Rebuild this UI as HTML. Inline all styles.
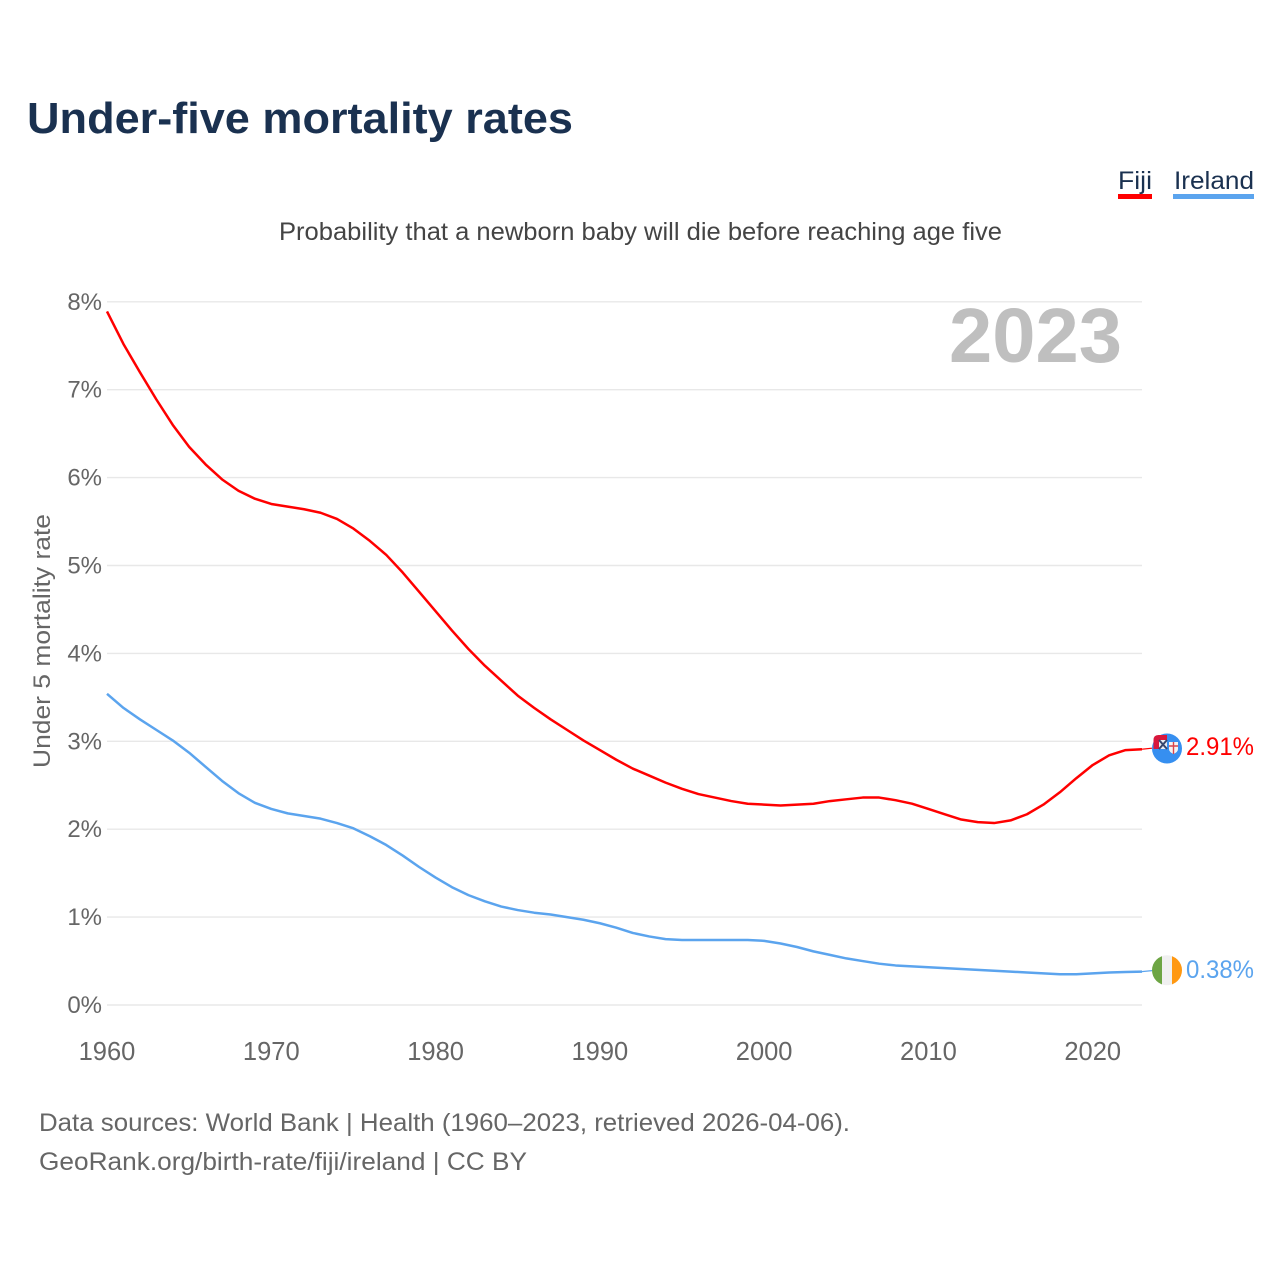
<!DOCTYPE html>
<html lang="en">
<head>
<meta charset="utf-8">
<title>Under-five mortality rates</title>
<style>
html,body{margin:0;padding:0;background:#fff;width:1280px;height:1280px;overflow:hidden}
svg{display:block}
text{font-family:"Liberation Sans",sans-serif}
</style>
</head>
<body>
<svg id="chart" xmlns="http://www.w3.org/2000/svg" width="1280" height="1280" viewBox="0 0 1280 1280">
  <defs>
    <clipPath id="clip-fiji"><circle cx="1167" cy="748.5" r="15"/></clipPath>
    <clipPath id="clip-ireland"><circle cx="1167" cy="970.3" r="15"/></clipPath>
  </defs>
  <rect width="1280" height="1280" fill="#fff"/>
  <text x="27" y="133" font-size="44" font-weight="700" fill="#1a3150" textLength="546" lengthAdjust="spacingAndGlyphs">Under-five mortality rates</text>
  <text x="279" y="240" font-size="25" fill="#444" textLength="723" lengthAdjust="spacingAndGlyphs">Probability that a newborn baby will die before reaching age five</text>

  <g>
    <text x="1118" y="189" font-size="25" fill="#1a3150" textLength="34" lengthAdjust="spacingAndGlyphs">Fiji</text>
    <rect x="1118" y="194" width="34" height="5" fill="#ff0000"/>
  </g>
  <g>
    <text x="1174" y="189" font-size="25" fill="#1a3150" textLength="80" lengthAdjust="spacingAndGlyphs">Ireland</text>
    <rect x="1173" y="194" width="81" height="5" fill="#5ba4ee"/>
  </g>

  <g id="grid"></g>
  <g id="yticks"></g>
  <g id="xticks"></g>

  <text transform="translate(50,768) rotate(-90)" font-size="24" fill="#666" textLength="254" lengthAdjust="spacingAndGlyphs">Under 5 mortality rate</text>
  <text x="949" y="362" font-size="77" font-weight="700" fill="#bfbfbf" textLength="173" lengthAdjust="spacingAndGlyphs">2023</text>

  <g id="series"></g>

  <g>
    <circle cx="1167" cy="748.5" r="15" fill="#368ff0"/>
    <path d="M1153.5 749V740Q1153.5 735 1158.5 735H1167V749Z" fill="#d8173c"/>
    <rect x="1159" y="740" width="8" height="9" fill="#e9edf4"/>
    <path d="M1159 740L1167 749M1167 740L1159 749" stroke="#35466e" stroke-width="2" fill="none"/>
    <path d="M1169 742H1178V749Q1178 752 1173.5 754Q1169 752 1169 749Z" fill="#f3f3f3"/>
    <path d="M1173.5 742V754M1169 746H1178" stroke="#d8444c" stroke-width="1.4" fill="none"/>
  </g>
  <text id="fiji-end" x="1186" y="755" font-size="25" fill="#ff0000" textLength="68" lengthAdjust="spacingAndGlyphs"></text>

  <g clip-path="url(#clip-ireland)">
    <rect x="1152" y="955" width="10" height="31" fill="#6da544"/>
    <rect x="1162" y="955" width="10" height="31" fill="#f0f0f0"/>
    <rect x="1172" y="955" width="10" height="31" fill="#ff9811"/>
  </g>
  <text id="ireland-end" x="1186" y="978" font-size="25" fill="#5ba4ee" textLength="68" lengthAdjust="spacingAndGlyphs"></text>

  <text x="39" y="1131" font-size="25" fill="#666" textLength="811" lengthAdjust="spacingAndGlyphs">Data sources: World Bank | Health (1960–2023, retrieved 2026-04-06).</text>
  <text x="39" y="1170" font-size="25" fill="#666" textLength="488" lengthAdjust="spacingAndGlyphs">GeoRank.org/birth-rate/fiji/ireland | CC BY</text>
</svg>
<script>
const years = [1960,1961,1962,1963,1964,1965,1966,1967,1968,1969,1970,1971,1972,1973,1974,1975,1976,1977,1978,1979,1980,1981,1982,1983,1984,1985,1986,1987,1988,1989,1990,1991,1992,1993,1994,1995,1996,1997,1998,1999,2000,2001,2002,2003,2004,2005,2006,2007,2008,2009,2010,2011,2012,2013,2014,2015,2016,2017,2018,2019,2020,2021,2022,2023];
const fijiValues = [7.89,7.52,7.20,6.89,6.60,6.35,6.15,5.98,5.85,5.76,5.70,5.67,5.64,5.60,5.53,5.42,5.28,5.12,4.92,4.70,4.48,4.26,4.05,3.86,3.69,3.52,3.38,3.25,3.13,3.01,2.90,2.79,2.69,2.61,2.53,2.46,2.40,2.36,2.32,2.29,2.28,2.27,2.28,2.29,2.32,2.34,2.36,2.36,2.33,2.29,2.23,2.17,2.11,2.08,2.07,2.10,2.17,2.28,2.42,2.58,2.73,2.84,2.90,2.91];
const irelandValues = [3.54,3.38,3.25,3.13,3.01,2.87,2.71,2.55,2.41,2.30,2.23,2.18,2.15,2.12,2.07,2.01,1.92,1.82,1.70,1.57,1.45,1.34,1.25,1.18,1.12,1.08,1.05,1.03,1.00,0.97,0.93,0.88,0.82,0.78,0.75,0.74,0.74,0.74,0.74,0.74,0.73,0.70,0.66,0.61,0.57,0.53,0.50,0.47,0.45,0.44,0.43,0.42,0.41,0.40,0.39,0.38,0.37,0.36,0.35,0.35,0.36,0.37,0.375,0.38];
const yTickValues = [0,1,2,3,4,5,6,7,8];
const xTickValues = [1960,1970,1980,1990,2000,2010,2020];

const NS = 'http://www.w3.org/2000/svg';
function xScale(year){ return 107 + (year - 1960) * (1142 - 107) / 63; }
function yScale(v){ return 1005 - v * 87.9; }

const gridGroup = document.getElementById('grid');
const yGroup = document.getElementById('yticks');
const xGroup = document.getElementById('xticks');
const seriesGroup = document.getElementById('series');

yTickValues.forEach(function(v){
  const line = document.createElementNS(NS, 'line');
  
  
  line.setAttribute('x1', 107);
  line.setAttribute('x2', 1142);
  line.setAttribute('y1', yScale(v));
  line.setAttribute('y2', yScale(v));
  line.setAttribute('stroke', '#e8e8e8');
  line.setAttribute('stroke-width', '1.4');
  gridGroup.appendChild(line);

  const label = document.createElementNS(NS, 'text');
  
  
  label.setAttribute('x', 102);
  label.setAttribute('y', yScale(v) + 8);
  label.setAttribute('text-anchor', 'end');
  label.setAttribute('font-size', '24');
  label.setAttribute('fill', '#666');
  label.textContent = v + '%';
  yGroup.appendChild(label);
});

xTickValues.forEach(function(y){
  const label = document.createElementNS(NS, 'text');
  
  
  label.setAttribute('x', xScale(y));
  label.setAttribute('y', 1060);
  label.setAttribute('text-anchor', 'middle');
  label.setAttribute('font-size', '25.5');
  label.setAttribute('fill', '#666');
  label.textContent = String(y);
  xGroup.appendChild(label);
});

function drawSeries(values, color, name){
  const pts = values.map(function(v, i){ return xScale(years[i]).toFixed(2) + ',' + yScale(v).toFixed(2); });
  const path = document.createElementNS(NS, 'polyline');
  
  
  path.setAttribute('points', pts.join(' '));
  path.setAttribute('fill', 'none');
  path.setAttribute('stroke', color);
  path.setAttribute('stroke-width', '2.5');
  path.setAttribute('stroke-linejoin', 'round');
  seriesGroup.appendChild(path);

  const last = values[values.length - 1];
  const leader = document.createElementNS(NS, 'line');
  
  
  leader.setAttribute('x1', xScale(years[years.length - 1]));
  leader.setAttribute('x2', 1152);
  leader.setAttribute('y1', yScale(last));
  leader.setAttribute('y2', yScale(last) - 1);
  leader.setAttribute('stroke', color);
  leader.setAttribute('stroke-width', '1.2');
  seriesGroup.appendChild(leader);
}
drawSeries(fijiValues, '#ff0000', 'fiji-line');
drawSeries(irelandValues, '#5ba4ee', 'ireland-line');

document.getElementById('fiji-end').textContent = fijiValues[fijiValues.length - 1].toFixed(2) + '%';
document.getElementById('ireland-end').textContent = irelandValues[irelandValues.length - 1].toFixed(2) + '%';
</script>
</body>
</html>
